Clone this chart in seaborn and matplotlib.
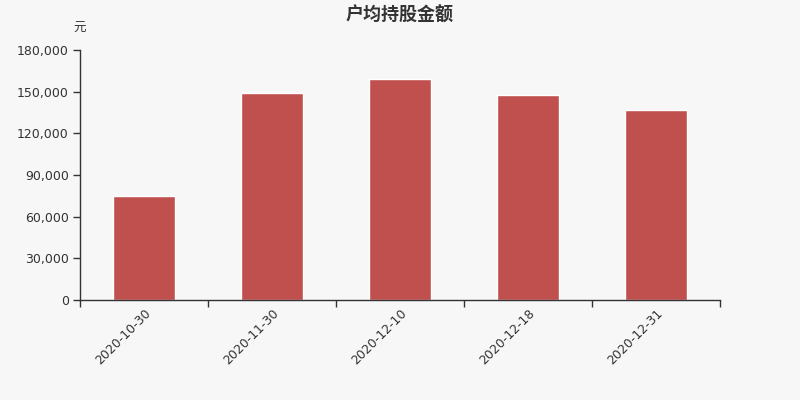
import matplotlib
matplotlib.use("Agg")
import matplotlib.pyplot as plt
import seaborn as sns
import pandas as pd
from matplotlib.ticker import FuncFormatter, MultipleLocator, FixedLocator

dates = ["2020-10-30", "2020-11-30", "2020-12-10", "2020-12-18", "2020-12-31"]
amounts = [74900, 149000, 159100, 147600, 136700]

sns.set_theme(style="white")
plt.rcParams["font.family"] = ["Noto Sans CJK SC", "DejaVu Sans"]

bg = "#f7f7f7"
df = pd.DataFrame({"date": dates, "amount": amounts})

fig = plt.figure(figsize=(8, 4), dpi=100, facecolor=bg)
ax = fig.add_axes([0.1, 0.25, 0.8, 0.625])
ax.set_facecolor(bg)

sns.barplot(data=df, x="date", y="amount", color="#c0504e", saturation=1,
            width=0.48, ax=ax)

ax.set_xlim(-0.5, len(dates) - 0.5)
ax.set_ylim(0, 180000)
ax.yaxis.set_major_locator(MultipleLocator(30000))
ax.yaxis.set_major_formatter(FuncFormatter(lambda v, p: f"{int(v):,}"))
ax.set_xticks(range(len(dates)))
ax.set_xticklabels(dates, rotation=45, ha="right", rotation_mode="anchor",
                   fontsize=9, color="#333333", family="DejaVu Sans")
for t in ax.get_yticklabels():
    t.set_fontsize(9)
    t.set_color("#333333")
    t.set_family("DejaVu Sans")

# ticks at category boundaries on x
ax.xaxis.set_minor_locator(FixedLocator([i - 0.5 for i in range(len(dates) + 1)]))
ax.tick_params(axis="x", which="major", bottom=True, length=0, pad=5)
ax.tick_params(axis="x", which="minor", bottom=True, length=5, width=1,
               color="#333333", direction="out")
ax.tick_params(axis="y", which="major", left=True, length=5, width=1,
               color="#333333", direction="out", pad=3)

for s in ["top", "right"]:
    ax.spines[s].set_visible(False)
for s in ["left", "bottom"]:
    ax.spines[s].set_color("#333333")
    ax.spines[s].set_linewidth(1)

ax.set_xlabel("")
ax.set_ylabel("")

fig.text(0.5, 0.963, "户均持股金额", ha="center", va="center",
         fontsize=13, fontweight="bold", color="#333333")
fig.text(0.1, 0.93, "元", ha="center", va="center", fontsize=9, color="#333333")

fig.savefig("out.png", dpi=100, facecolor=bg)
